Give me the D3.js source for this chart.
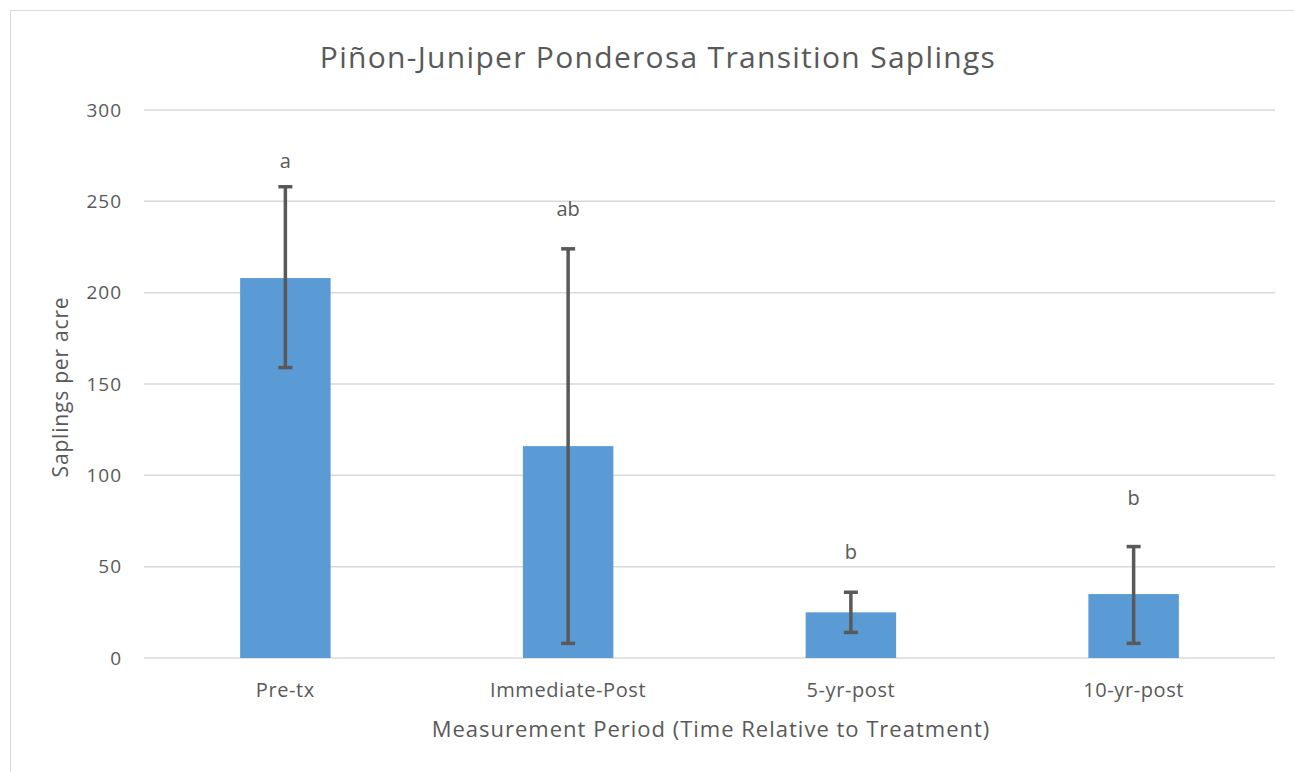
<!DOCTYPE html>
<html>
<head>
<meta charset="utf-8">
<script src="https://cdn.jsdelivr.net/npm/d3@7"></script>
<style>
  body { margin: 0; background: #fff; }
  text { font-family: "Open Sans", sans-serif; fill: #595959; }
</style>
</head>
<body>
<div id="chart"></div>
<script>
// data
const categories = ["Pre-tx", "Immediate-Post", "5-yr-post", "10-yr-post"];
const means = [208, 116, 25, 35];
const errLow = [159, 8, 14, 8];
const errHigh = [258, 224, 36, 61];
const letters = ["a", "ab", "b", "b"];
const letterAt = [268, 242, 54, 84]; // where the group letters sit, in saplings/acre
const yTicks = [0, 50, 100, 150, 200, 250, 300];

const width = 1294, height = 772;
const margin = { top: 110, right: 19, bottom: 114, left: 144 };

const svg = d3.select("#chart").append("svg")
  .attr("width", width)
  .attr("height", height);

// chart border
svg.append("rect")
  .attr("x", 10.5).attr("y", 10.5)
  .attr("width", width).attr("height", height)
  .attr("fill", "none")
  .attr("stroke", "#d9d9d9");

const x = d3.scaleBand()
  .domain(categories)
  .range([margin.left, width - margin.right])
  .paddingInner(0.68)
  .paddingOuter(0.34);

const y = d3.scaleLinear()
  .domain([0, 300])
  .range([height - margin.bottom, margin.top]);

// gridlines
svg.append("g")
  .selectAll("line")
  .data(yTicks)
  .join("line")
  .attr("x1", margin.left).attr("x2", width - margin.right)
  .attr("y1", d => y(d)).attr("y2", d => y(d))
  .attr("stroke", "#d9d9d9")
  .attr("stroke-width", 1.5);

// y tick labels
svg.append("g")
  .selectAll("text")
  .data(yTicks)
  .join("text")
  .attr("x", margin.left - 22)
  .attr("y", d => y(d))
  .attr("dy", "0.35em")
  .attr("text-anchor", "end")
  .attr("font-size", "19px")
  .attr("letter-spacing", "1px")
  .text(d => d);

// bars
svg.append("g")
  .selectAll("rect")
  .data(categories)
  .join("rect")
  .attr("x", d => x(d))
  .attr("y", (d, i) => y(means[i]))
  .attr("width", x.bandwidth())
  .attr("height", (d, i) => y(0) - y(means[i]))
  .attr("fill", "#5b9bd5");

// error bars
const err = svg.append("g")
  .attr("stroke", "#595959")
  .attr("stroke-width", 3.5);

categories.forEach((c, i) => {
  const cx = x(c) + x.bandwidth() / 2;
  err.append("line")
    .attr("x1", cx).attr("x2", cx)
    .attr("y1", y(errLow[i])).attr("y2", y(errHigh[i]));
  [errLow[i], errHigh[i]].forEach(v => {
    err.append("line")
      .attr("x1", cx - 7).attr("x2", cx + 7)
      .attr("y1", y(v)).attr("y2", y(v));
  });
});

// significance letters
svg.append("g")
  .selectAll("text")
  .data(categories)
  .join("text")
  .attr("x", d => x(d) + x.bandwidth() / 2)
  .attr("y", (d, i) => y(letterAt[i]))
  .attr("text-anchor", "middle")
  .attr("font-size", "20px")
  .text((d, i) => letters[i]);

// x category labels
svg.append("g")
  .selectAll("text")
  .data(categories)
  .join("text")
  .attr("x", d => x(d) + x.bandwidth() / 2)
  .attr("y", y(0) + 39)
  .attr("text-anchor", "middle")
  .attr("font-size", "20px")
  .attr("letter-spacing", "0.6px")
  .text(d => d);

// title
svg.append("text")
  .attr("x", 658)
  .attr("y", 68)
  .attr("text-anchor", "middle")
  .attr("font-size", "30px")
  .attr("letter-spacing", "1.3px")
  .text("Piñon-Juniper Ponderosa Transition Saplings");

// axis titles
svg.append("text")
  .attr("x", 711)
  .attr("y", 737)
  .attr("text-anchor", "middle")
  .attr("font-size", "22px")
  .attr("letter-spacing", "1px")
  .text("Measurement Period (Time Relative to Treatment)");

svg.append("text")
  .attr("transform", `translate(68, 387) rotate(-90)`)
  .attr("text-anchor", "middle")
  .attr("font-size", "21px")
  .attr("letter-spacing", "0.8px")
  .text("Saplings per acre");
</script>
</body>
</html>
